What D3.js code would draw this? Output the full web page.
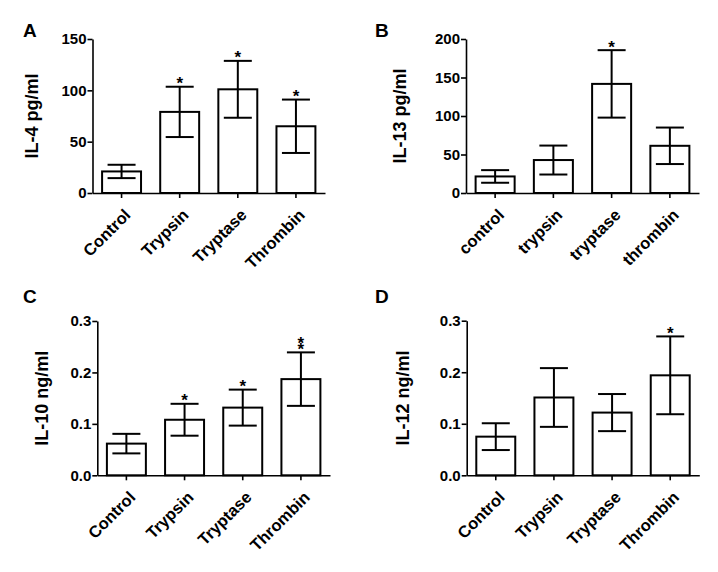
<!DOCTYPE html>
<html>
<head>
<meta charset="utf-8">
<script src="https://cdn.jsdelivr.net/npm/d3@7"></script>
<style>
  html, body { margin: 0; padding: 0; background: #fff; }
  svg text { font-family: "Liberation Sans", Arial, sans-serif; font-weight: bold; fill: #000; }
</style>
</head>
<body>
<svg id="chart" width="718" height="572"></svg>
<script>
// ---- data ----
const categoriesUpper = ["Control", "Trypsin", "Tryptase", "Thrombin"];
const categoriesLower = ["control", "trypsin", "tryptase", "thrombin"];

const il4Mean = [21, 79, 101, 65];
const il4Err  = [6.5, 24.5, 27.7, 26];
const il4Stars = [0, 1, 1, 1];
const il4Ticks = [0, 50, 100, 150];

const il13Mean = [21.5, 42.8, 141.7, 61.3];
const il13Err  = [8.2, 18.8, 43.8, 23.7];
const il13Stars = [0, 0, 1, 0];
const il13Ticks = [0, 50, 100, 150, 200];

const il10Mean = [0.0616, 0.108, 0.1316, 0.187];
const il10Err  = [0.019, 0.031, 0.035, 0.052];
const il10Stars = [0, 1, 1, 2];
const il10Ticks = [0, 0.1, 0.2, 0.3];

const il12Mean = [0.075, 0.151, 0.1217, 0.194];
const il12Err  = [0.026, 0.057, 0.036, 0.0755];
const il12Stars = [0, 0, 0, 1];
const il12Ticks = [0, 0.1, 0.2, 0.3];

// ---- layout ----
const panels = [
  { letter: "A", label: "IL-4 pg/ml", cats: categoriesUpper, mean: il4Mean, err: il4Err, stars: il4Stars, ticks: il4Ticks, max: 150, fmt: d3.format("d"),
    left: 92.5, right: 325, top: 39, bottom: 193, letterX: 23, letterY: 37, labelX: 38 },
  { letter: "B", label: "IL-13 pg/ml", cats: categoriesLower, mean: il13Mean, err: il13Err, stars: il13Stars, ticks: il13Ticks, max: 200, fmt: d3.format("d"),
    left: 466, right: 699, top: 39, bottom: 193, letterX: 375, letterY: 37, labelX: 406 },
  { letter: "C", label: "IL-10 ng/ml", cats: categoriesUpper, mean: il10Mean, err: il10Err, stars: il10Stars, ticks: il10Ticks, max: 0.3, fmt: d3.format(".1f"),
    left: 97.3, right: 330, top: 321, bottom: 475.3, letterX: 23, letterY: 303, labelX: 48 },
  { letter: "D", label: "IL-12 ng/ml", cats: categoriesUpper, mean: il12Mean, err: il12Err, stars: il12Stars, ticks: il12Ticks, max: 0.3, fmt: d3.format(".1f"),
    left: 466.7, right: 699.3, top: 320.7, bottom: 475.3, letterX: 375, letterY: 303, labelX: 409 }
];

const svg = d3.select("#chart");

panels.forEach(p => {
  const g = svg.append("g");
  const x = d3.scaleBand().domain(p.cats).range([p.left, p.right]).paddingInner(0.33).paddingOuter(0.165);
  const y = d3.scaleLinear().domain([0, p.max]).range([p.bottom, p.top]);

  // panel letter
  g.append("text").attr("x", p.letterX).attr("y", p.letterY).attr("font-size", 19).text(p.letter);

  // y label
  g.append("text")
    .attr("transform", `translate(${p.labelX},${(p.top + p.bottom) / 2}) rotate(-90)`)
    .attr("text-anchor", "middle").attr("font-size", 18).text(p.label);

  // bars
  const data = p.cats.map((c, i) => ({ c, m: p.mean[i], e: p.err[i], s: p.stars[i] }));
  g.selectAll("rect.bar").data(data).join("rect")
    .attr("class", "bar")
    .attr("x", d => x(d.c)).attr("width", x.bandwidth())
    .attr("y", d => y(d.m)).attr("height", d => y(0) - y(d.m))
    .attr("fill", "#fff").attr("stroke", "#000").attr("stroke-width", 2);

  // error bars
  const capHalf = 14;
  const cx = d => x(d.c) + x.bandwidth() / 2;
  const eb = g.selectAll("g.eb").data(data).join("g").attr("class", "eb");
  eb.append("line")
    .attr("x1", cx).attr("x2", cx)
    .attr("y1", d => y(d.m - d.e)).attr("y2", d => y(d.m + d.e))
    .attr("stroke", "#000").attr("stroke-width", 2);
  eb.append("line")
    .attr("x1", d => cx(d) - capHalf).attr("x2", d => cx(d) + capHalf)
    .attr("y1", d => y(d.m + d.e)).attr("y2", d => y(d.m + d.e))
    .attr("stroke", "#000").attr("stroke-width", 2);
  eb.append("line")
    .attr("x1", d => cx(d) - capHalf).attr("x2", d => cx(d) + capHalf)
    .attr("y1", d => y(d.m - d.e)).attr("y2", d => y(d.m - d.e))
    .attr("stroke", "#000").attr("stroke-width", 2);

  // stars (stacked in one text element)
  data.filter(d => d.s > 0).forEach(d => {
    const t = g.append("text")
      .attr("x", cx(d))
      .attr("y", y(d.m + d.e) + 2.5 - (d.s - 1) * 6)
      .attr("text-anchor", "middle").attr("font-size", 17);
    for (let k = 0; k < d.s; k++) {
      t.append("tspan").attr("x", cx(d)).attr("dy", k === 0 ? 0 : 6).text("*");
    }
  });

  // y axis
  const yAxis = g.append("g").attr("transform", `translate(${p.left},0)`)
    .call(d3.axisLeft(y).tickValues(p.ticks).tickFormat(p.fmt).tickSize(5).tickSizeOuter(0).tickPadding(1));
  yAxis.selectAll("text").attr("font-size", 15).style("font-family", '"Liberation Sans", Arial, sans-serif').style("font-weight", "bold");
  yAxis.selectAll("path, line").attr("stroke", "#000").attr("stroke-width", 1.6);

  // x axis
  const xAxis = g.append("g").attr("transform", `translate(0,${p.bottom})`)
    .call(d3.axisBottom(x).tickSize(5).tickSizeOuter(0));
  xAxis.selectAll("path, line").attr("stroke", "#000").attr("stroke-width", 1.6);
  xAxis.selectAll("text")
    .attr("font-size", 16.5)
    .style("font-family", '"Liberation Sans", Arial, sans-serif').style("font-weight", "bold")
    .attr("text-anchor", "end")
    .attr("dy", null).attr("y", null)
    .attr("transform", "translate(10,23) rotate(-45)");
});
</script>
</body>
</html>
